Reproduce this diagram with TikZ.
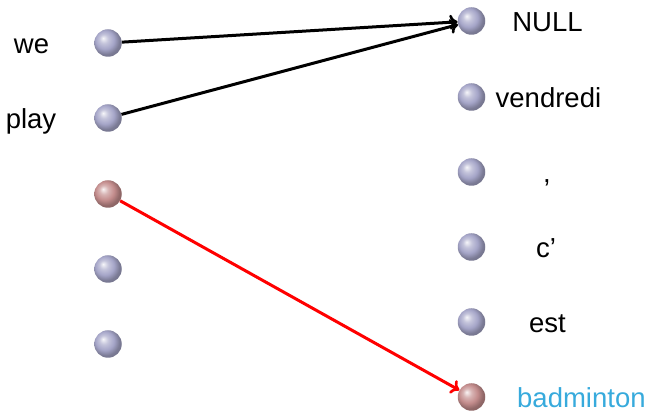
\documentclass[tikz,border=0pt]{standalone}
\usepackage{fontspec}
\setmainfont{Liberation Sans}
\usetikzlibrary{arrows.meta}
\definecolor{bb}{RGB}{165,165,200}
\definecolor{rb}{RGB}{195,140,140}
\definecolor{skyblue}{RGB}{55,170,220}
\pgfdeclareradialshading{blueball}{\pgfpoint{-9bp}{9bp}}{color(0bp)=(bb!10!white); color(8bp)=(bb!65!white); color(17bp)=(bb); color(25bp)=(bb!75!black); color(50bp)=(bb!50!black)}
\pgfdeclareradialshading{redball}{\pgfpoint{-9bp}{9bp}}{color(0bp)=(rb!10!white); color(8bp)=(rb!65!white); color(17bp)=(rb); color(25bp)=(rb!75!black); color(50bp)=(rb!50!black)}
\begin{document}
\begin{tikzpicture}[x=1pt,y=-1pt,
  ballnode/.style={circle,inner sep=0pt,minimum size=27.5pt,shading=blueball},
  pinkball/.style={ballnode,shading=redball},
  word/.style={font=\fontsize{27.5}{30}\selectfont,inner sep=0pt,anchor=base},
  blackarrow/.style={line width=3pt,-{To[length=8pt,width=15pt,line width=2.6pt]}},
  redarrow/.style={line width=3pt,red,-{To[length=8pt,width=15pt,line width=2.6pt]}}]
\useasboundingbox (0,0) rectangle (654,411);
% left column
\node[ballnode] (l1) at (108,43) {};
\node[ballnode] (l2) at (108,118) {};
\node[pinkball] (l3) at (108,194) {};
\node[ballnode] (l4) at (108,269) {};
\node[ballnode] (l5) at (108,344) {};
\node[word] (we) at (31.5,53.5) {we};
\node[word] (play) at (31,128.5) {play};
% right column
\node[ballnode] (r1) at (471.5,21) {};
\node[ballnode] (r2) at (471.5,97) {};
\node[ballnode] (r3) at (471.5,172) {};
\node[ballnode] (r4) at (471.5,247) {};
\node[ballnode] (r5) at (471.5,322) {};
\node[pinkball] (r6) at (471.5,397) {};
\node[word] (tnull) at (547.5,31.5) {NULL};
\node[word,anchor=base west] (tven) at (495.5,107.5) {vendredi};
\node[word] (tcomma) at (547,182.5) {,};
\node[word] (tc) at (546,257.5) {c’};
\node[word] (test) at (547.5,332.5) {est};
\node[word,anchor=base west,text=skyblue] (tbad) at (517,408) {badminton};
% connectors
\draw[blackarrow] (l1) -- (r1);
\draw[blackarrow] (l2) -- (r1);
\draw[redarrow] (l3) -- (r6);
\end{tikzpicture}
\end{document}
